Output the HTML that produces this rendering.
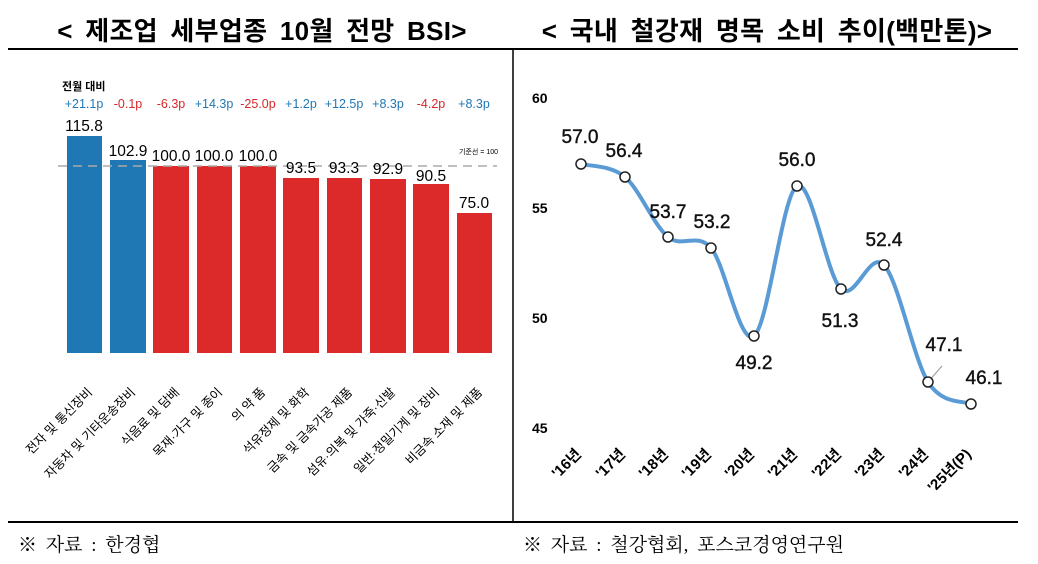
<!DOCTYPE html>
<html><head><meta charset="utf-8"><style>
body{margin:0;width:1038px;height:564px;background:#fff;overflow:hidden;font-family:"Liberation Sans","Noto Sans CJK KR",sans-serif;}
svg{position:absolute;left:0;top:0}
</style></head><body>
<svg width="1038" height="564" viewBox="0 0 1038 564" font-family="Liberation Sans, Noto Sans CJK KR, sans-serif">
<text x="262" y="40" font-size="26" font-weight="bold" text-anchor="middle" word-spacing="5" letter-spacing="0.3">&lt; 제조업 세부업종 10월 전망 BSI&gt;</text>
<text x="767" y="40" font-size="26" font-weight="bold" text-anchor="middle" word-spacing="5" letter-spacing="0.3">&lt; 국내 철강재 명목 소비 추이(백만톤)&gt;</text>
<line x1="8" y1="49" x2="1018" y2="49" stroke="#000" stroke-width="2"/>
<line x1="513" y1="49" x2="513" y2="522" stroke="#000" stroke-width="1.5"/>
<line x1="8" y1="522" x2="1018" y2="522" stroke="#000" stroke-width="2"/>
<text x="18" y="551" font-size="19" font-family="Liberation Serif, Noto Serif CJK SC, serif" word-spacing="4">※ 자료 : 한경협</text>
<text x="523" y="551" font-size="19" font-family="Liberation Serif, Noto Serif CJK SC, serif" word-spacing="4">※ 자료 : 철강협회, 포스코경영연구원</text>

<text x="62" y="90" font-size="11" font-weight="bold">전월 대비</text>
<g font-size="12.5" text-anchor="middle">
<text x="84" y="108" fill="#1f77b4">+21.1p</text>
<text x="128" y="108" fill="#d62728">-0.1p</text>
<text x="171" y="108" fill="#d62728">-6.3p</text>
<text x="214" y="108" fill="#1f77b4">+14.3p</text>
<text x="258" y="108" fill="#d62728">-25.0p</text>
<text x="301" y="108" fill="#1f77b4">+1.2p</text>
<text x="344" y="108" fill="#1f77b4">+12.5p</text>
<text x="388" y="108" fill="#1f77b4">+8.3p</text>
<text x="431" y="108" fill="#d62728">-4.2p</text>
<text x="474" y="108" fill="#1f77b4">+8.3p</text>
</g>
<g>
<rect x="67" y="136" width="35" height="217" fill="#1f77b4"/>
<rect x="110" y="160" width="36" height="193" fill="#1f77b4"/>
<rect x="153" y="166" width="36" height="187" fill="#dc2a2a"/>
<rect x="197" y="166" width="35" height="187" fill="#dc2a2a"/>
<rect x="240" y="166" width="36" height="187" fill="#dc2a2a"/>
<rect x="283" y="178" width="36" height="175" fill="#dc2a2a"/>
<rect x="327" y="178" width="35" height="175" fill="#dc2a2a"/>
<rect x="370" y="179" width="36" height="174" fill="#dc2a2a"/>
<rect x="413" y="184" width="36" height="169" fill="#dc2a2a"/>
<rect x="457" y="213" width="35" height="140" fill="#dc2a2a"/>
</g>
<line x1="58" y1="166" x2="497" y2="166" stroke="#aaa" stroke-width="1.5" stroke-dasharray="9,6"/>
<text x="498" y="154" font-size="7" text-anchor="end">기준선 = 100</text>
<g font-size="15.5" text-anchor="middle">
<text x="84" y="131">115.8</text>
<text x="128" y="156">102.9</text>
<text x="171" y="161">100.0</text>
<text x="214" y="161">100.0</text>
<text x="258" y="161">100.0</text>
<text x="301" y="173">93.5</text>
<text x="344" y="173">93.3</text>
<text x="388" y="174">92.9</text>
<text x="431" y="181">90.5</text>
<text x="474" y="208">75.0</text>
</g>
<g font-size="12.5" text-anchor="end">
<text transform="translate(93,393) rotate(-45)">전자 및 통신장비</text>
<text transform="translate(136,393) rotate(-45)">자동차 및 기타운송장비</text>
<text transform="translate(180,393) rotate(-45)">식음료 및 담배</text>
<text transform="translate(223,393) rotate(-45)">목재·가구 및 종이</text>
<text transform="translate(266,393) rotate(-45)">의 약 품</text>
<text transform="translate(310,393) rotate(-45)">석유정제 및 화학</text>
<text transform="translate(353,393) rotate(-45)">금속 및 금속가공 제품</text>
<text transform="translate(396,393) rotate(-45)">섬유·의복 및 가죽·신발</text>
<text transform="translate(440,393) rotate(-45)">일반·정밀기계 및 장비</text>
<text transform="translate(483,393) rotate(-45)">비금속 소재 및 제품</text>
</g>

<g font-size="14" font-weight="bold">
<text x="532" y="103">60</text>
<text x="532" y="213">55</text>
<text x="532" y="323">50</text>
<text x="532" y="433">45</text>
</g>
<path d="M581,164 C588.3,166.2 610.5,164.8 625,177 C639.5,189.2 653.7,225.2 668,237 C682.3,248.8 696.7,231.5 711,248 C725.3,264.5 739.7,346.3 754,336 C768.3,325.7 782.5,193.8 797,186 C811.5,178.2 826.5,275.8 841,289 C855.5,302.2 869.5,249.5 884,265 C898.5,280.5 913.5,358.8 928,382 C942.5,405.2 963.8,400.3 971,404" fill="none" stroke="#5b9bd5" stroke-width="4"/>
<line x1="928" y1="382" x2="942" y2="366" stroke="#999" stroke-width="1"/>
<g fill="#fff" stroke="#222" stroke-width="1.5">
<circle cx="581" cy="164" r="5"/><circle cx="625" cy="177" r="5"/><circle cx="668" cy="237" r="5"/><circle cx="711" cy="248" r="5"/><circle cx="754" cy="336" r="5"/><circle cx="797" cy="186" r="5"/><circle cx="841" cy="289" r="5"/><circle cx="884" cy="265" r="5"/><circle cx="928" cy="382" r="5"/><circle cx="971" cy="404" r="5"/>
</g>
<g font-size="19" text-anchor="middle" fill="#111" stroke="#111" stroke-width="0.4">
<text x="580" y="143">57.0</text>
<text x="624" y="157">56.4</text>
<text x="668" y="218">53.7</text>
<text x="712" y="228">53.2</text>
<text x="754" y="369">49.2</text>
<text x="797" y="166">56.0</text>
<text x="840" y="327">51.3</text>
<text x="884" y="246">52.4</text>
<text x="944" y="351">47.1</text>
<text x="984" y="384">46.1</text>
</g>
<g font-size="15" font-weight="bold" text-anchor="end">
<text transform="translate(582,455) rotate(-45)">'16년</text>
<text transform="translate(626,455) rotate(-45)">'17년</text>
<text transform="translate(669,455) rotate(-45)">'18년</text>
<text transform="translate(712,455) rotate(-45)">'19년</text>
<text transform="translate(755,455) rotate(-45)">'20년</text>
<text transform="translate(798,455) rotate(-45)">'21년</text>
<text transform="translate(842,455) rotate(-45)">'22년</text>
<text transform="translate(885,455) rotate(-45)">'23년</text>
<text transform="translate(929,455) rotate(-45)">'24년</text>
<text transform="translate(972,455) rotate(-45)">'25년(P)</text>
</g>
</svg>
</body></html>
